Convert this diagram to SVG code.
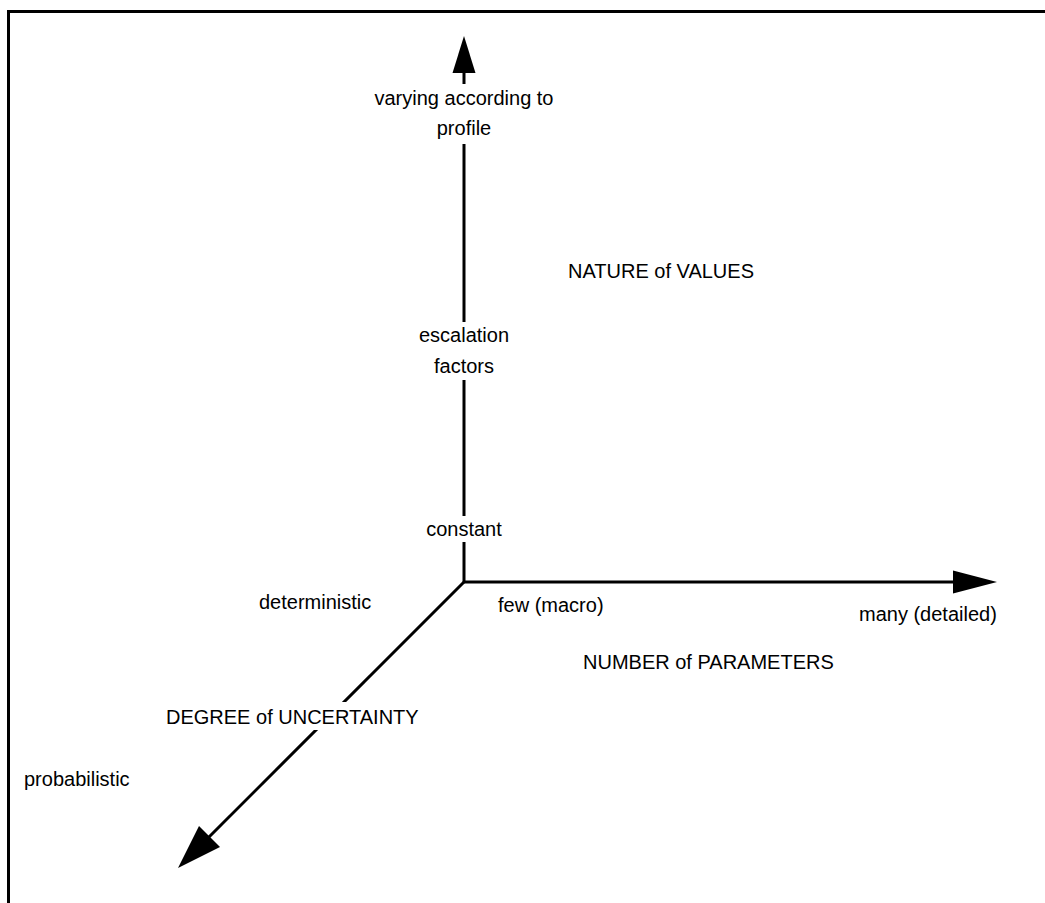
<svg xmlns="http://www.w3.org/2000/svg" width="1045" height="903" viewBox="0 0 1045 903">
<style>
text{font-family:"Liberation Sans",Arial,sans-serif;font-size:20px;fill:#000}
.ax{stroke:#000;stroke-width:3;fill:none}
.c{text-anchor:middle}
</style>
<rect x="0" y="0" width="1045" height="903" fill="#fff"/>
<path d="M8.5,903 V11.5 H1045" fill="none" stroke="#000" stroke-width="3"/>
<g id="connectors">
<path class="ax" d="M464,582 V70"/>
<polygon points="464,36 452.5,73 475.5,73" fill="#000"/>
<path class="ax" d="M464,582 H960"/>
<polygon points="997,582 953,570.5 953,593.5" fill="#000"/>
<path class="ax" d="M464,582 L205,841"/>
<polygon points="178,868 199,826 220,847" fill="#000"/>
</g>
<g id="labels-bg" fill="#fff">
<rect x="372" y="84" width="184" height="60"/>
<rect x="413" y="322" width="102" height="58"/>
<rect x="422" y="516" width="84" height="26"/>
<rect x="163" y="702" width="250" height="28"/>
</g>
<g id="n-varying"><text class="c" x="464" y="105">varying according to</text><text class="c" x="464" y="135">profile</text></g>
<g id="n-nature"><text x="568" y="278">NATURE of VALUES</text></g>
<g id="n-escalation"><text class="c" x="464" y="342">escalation</text><text class="c" x="464" y="373">factors</text></g>
<g id="n-constant"><text class="c" x="464" y="536">constant</text></g>
<g id="n-deterministic"><text x="259" y="609">deterministic</text></g>
<g id="n-few"><text x="498" y="612">few (macro)</text></g>
<g id="n-many"><text x="859" y="621">many (detailed)</text></g>
<g id="n-number"><text x="583" y="669">NUMBER of PARAMETERS</text></g>
<g id="n-degree"><text x="166" y="724">DEGREE of UNCERTAINTY</text></g>
<g id="n-probabilistic"><text x="24" y="786">probabilistic</text></g>
</svg>
